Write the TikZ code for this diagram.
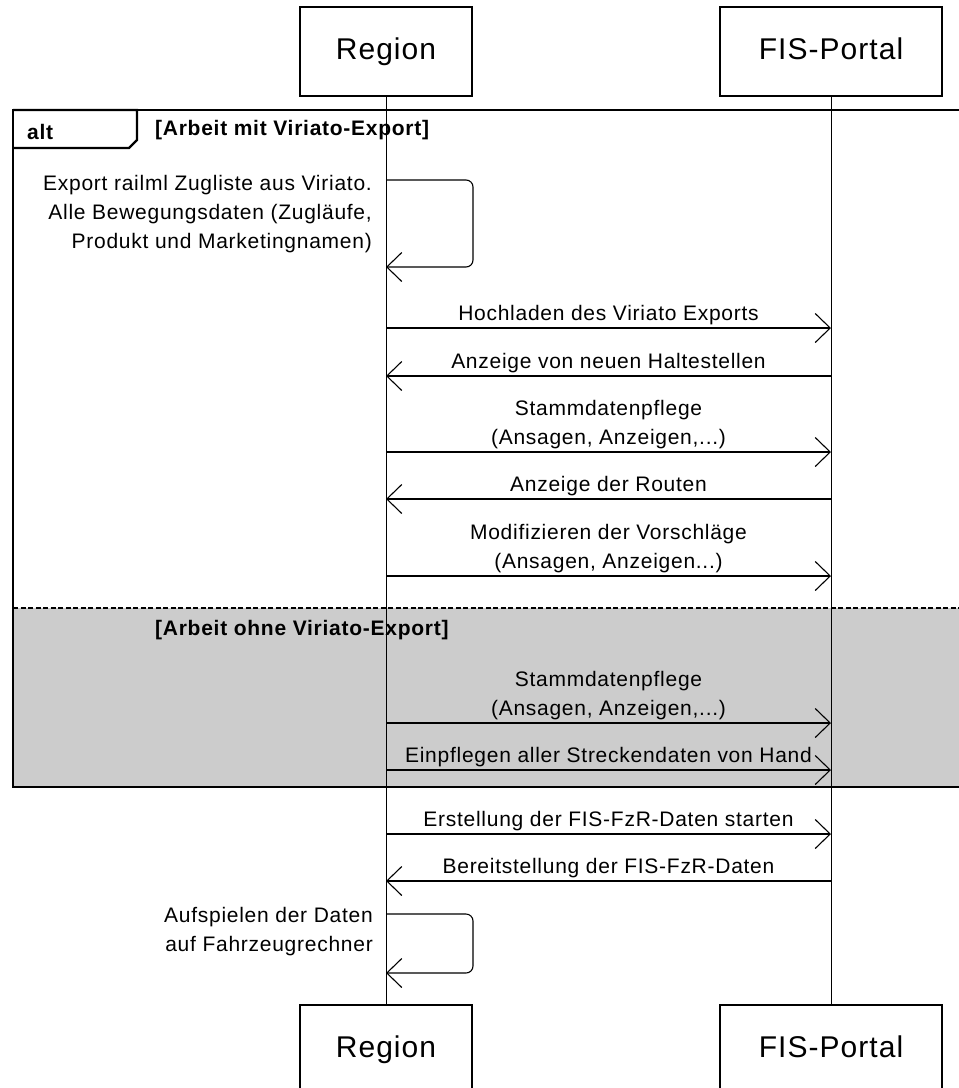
\documentclass[tikz,border=0pt]{standalone}
\usepackage{fontspec}
\setmainfont{Liberation Sans}[LetterSpace=3.5]
\usetikzlibrary{arrows.meta}
\definecolor{altgray}{HTML}{CCCCCC}

\begin{document}
\begin{tikzpicture}[
		base/.style={draw, fill=white, line width=1.2pt, minimum height=89pt,
			text height=22pt, text depth=6pt, font=\fontsize{30}{34}\selectfont},
		link/.style={-{Straight Barb[length=15pt, width=29pt]}, draw, line width=1.1pt},
		self/.style={link, rounded corners=7pt},
		msgtext/.style={above, inner sep=2.5pt, align=center, font=\fontsize{21}{29}\selectfont},
		selftext/.style={anchor=east, inner sep=0pt, align=right, font=\fontsize{21}{29}\selectfont},
		guard/.style={anchor=base west, inner sep=0pt, font=\bfseries\fontsize{21}{24}\selectfont},
		frame/.style={draw, line width=2.6pt}
	]
	\useasboundingbox (0pt, 0pt) rectangle (959pt, -1088pt);

	% alt fragment
	\fill[altgray] (13pt, -608pt) rectangle (980pt, -787pt);
	\draw[frame] (13pt, -110pt) rectangle (980pt, -787pt);
	\draw[line width=2.2pt, dash pattern=on 5pt off 2.5pt] (13pt, -608pt) -- (980pt, -608pt);
	\draw[line width=2.2pt] (13pt, -110pt) -- (137pt, -110pt) -- (137pt, -140pt)
		-- (129pt, -148pt) -- (13pt, -148pt);
	\node[guard] at (27pt, -139pt) (alt) {alt};
	\node[guard] at (155pt, -135pt) (guard1) {[Arbeit mit Viriato-Export]};
	\node[guard] at (155pt, -635pt) (guard2) {[Arbeit ohne Viriato-Export]};

	% lifelines
	\node[base, minimum width=172pt] at (386pt, -51.5pt) (region) {Region};
	\node[base, minimum width=222pt] at (831pt, -51.5pt) (portal) {FIS-Portal};
	\node[base, minimum width=172pt] at (386pt, -1049.5pt) (region2) {Region};
	\node[base, minimum width=222pt] at (831pt, -1049.5pt) (portal2) {FIS-Portal};
	\draw[line width=1pt] (region) -- (region2);
	\draw[line width=1pt] (portal) -- (portal2);

	\foreach \y/\n in {328/1, 376/2, 452/3, 499/4, 576/5, 723/6, 770/7, 834/8, 881/9}{
		\coordinate (r\n) at (386pt, -\y pt);
		\coordinate (p\n) at (831pt, -\y pt);
	}

	% self messages
	\coordinate (s1) at (386pt, -180pt);
	\coordinate (s1e) at (386pt, -267pt);
	\draw[self] (s1) -- ++(87pt, 0pt) |- (s1e);
	\node[selftext] at (372pt, -214.5pt) (note1) {Export railml Zugliste aus Viriato.\\
		Alle Bewegungsdaten (Zugläufe,\\ Produkt und Marketingnamen)};

	\coordinate (s2) at (386pt, -914pt);
	\coordinate (s2e) at (386pt, -973pt);
	\draw[self] (s2) -- ++(87pt, 0pt) |- (s2e);
	\node[selftext] at (373pt, -931.5pt) (note2) {Aufspielen der Daten\\ auf Fahrzeugrechner};

	% messages
	\draw[link] (r1) -- node[msgtext] {Hochladen des Viriato Exports} (p1);
	\draw[link] (p2) -- node[msgtext] {Anzeige von neuen Haltestellen} (r2);
	\draw[link] (r3) -- node[msgtext] {Stammdatenpflege\\ (Ansagen, Anzeigen,...)} (p3);
	\draw[link] (p4) -- node[msgtext] {Anzeige der Routen} (r4);
	\draw[link] (r5) -- node[msgtext] {Modifizieren der Vorschläge\\ (Ansagen, Anzeigen...)} (p5);
	\draw[link] (r6) -- node[msgtext] {Stammdatenpflege\\ (Ansagen, Anzeigen,...)} (p6);
	\draw[link] (r7) -- node[msgtext] {Einpflegen aller Streckendaten von Hand} (p7);
	\draw[link] (r8) -- node[msgtext] {Erstellung der FIS-FzR-Daten starten} (p8);
	\draw[link] (p9) -- node[msgtext] {Bereitstellung der FIS-FzR-Daten} (r9);

\end{tikzpicture}
\end{document}
